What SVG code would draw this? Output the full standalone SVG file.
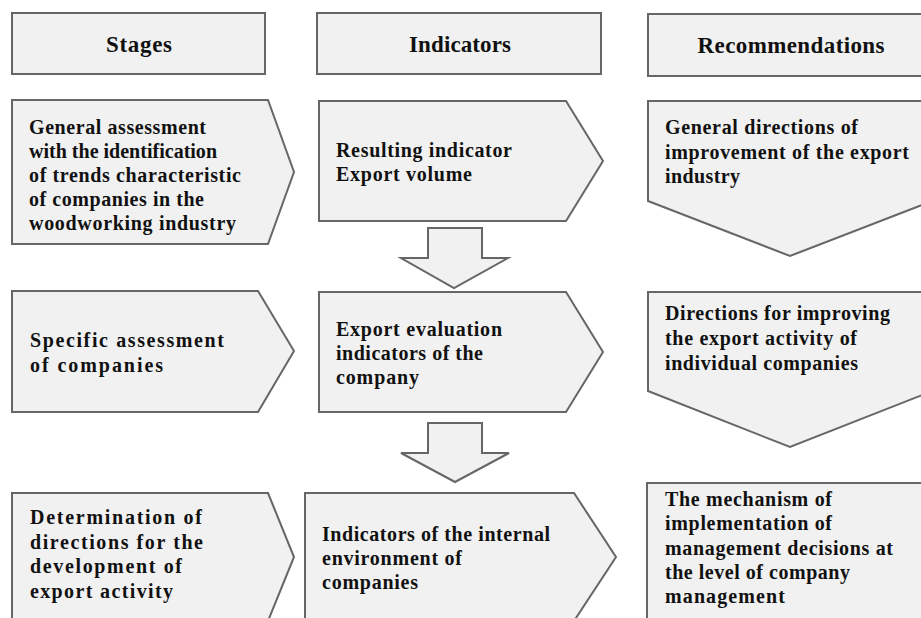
<svg xmlns="http://www.w3.org/2000/svg" width="921" height="618" viewBox="0 0 921 618">
<style>
.box{fill:#f1f1f1;stroke:#666;stroke-width:2;stroke-linejoin:miter}
.hdr{font-family:"Liberation Serif","Times New Roman",serif;font-weight:bold;font-size:23px;fill:#111;text-anchor:middle}
.t{font-family:"Liberation Serif","Times New Roman",serif;font-weight:bold;font-size:20px;fill:#111}
</style>
<rect width="921" height="618" fill="#fff"/>
<g id="hdr-stages"><rect class="box" x="12" y="13" width="253" height="61"/><text class="hdr" x="139" y="52" textLength="66" lengthAdjust="spacing">Stages</text></g>
<g id="hdr-indicators"><rect class="box" x="317" y="13" width="284" height="61"/><text class="hdr" x="460" y="52" textLength="102" lengthAdjust="spacing">Indicators</text></g>
<g id="hdr-recs"><rect class="box" x="648" y="14" width="290" height="62"/><text class="hdr" x="791" y="53" textLength="187" lengthAdjust="spacing">Recommendations</text></g>

<g id="stage1"><path class="box" d="M12,100 L268,100 L294,172 L268,244 L12,244 Z"/>
<text class="t" lengthAdjust="spacing"><tspan x="29" y="134" textLength="177">General assessment</tspan><tspan x="29" y="158" textLength="188">with the identification</tspan><tspan x="29" y="182" textLength="212">of trends characteristic</tspan><tspan x="29" y="206" textLength="175">of companies in the</tspan><tspan x="29" y="230" textLength="207">woodworking industry</tspan></text></g>
<g id="ind1"><path class="box" d="M319,101 L566,101 L603,161 L566,221 L319,221 Z"/>
<text class="t"><tspan x="336" y="157" textLength="176" lengthAdjust="spacing">Resulting indicator</tspan><tspan x="336" y="181" textLength="136" lengthAdjust="spacing">Export volume</tspan></text></g>
<g id="rec1"><path class="box" d="M648,101 L935,101 L935,200 L790,256 L648,201 Z"/>
<text class="t"><tspan x="665" y="134" textLength="193" lengthAdjust="spacing">General directions of</tspan><tspan x="665" y="159" textLength="244" lengthAdjust="spacing">improvement of the export</tspan><tspan x="665" y="183" textLength="75" lengthAdjust="spacing">industry</tspan></text></g>

<g id="stage2"><path class="box" d="M12,291 L258,291 L294,351 L258,412 L12,412 Z"/>
<text class="t"><tspan x="30" y="347" textLength="194" lengthAdjust="spacing">Specific assessment</tspan><tspan x="30" y="372" textLength="133" lengthAdjust="spacing">of companies</tspan></text></g>
<g id="ind2"><path class="box" d="M319,292 L566,292 L603,352 L566,412 L319,412 Z"/>
<text class="t"><tspan x="336" y="336" textLength="166" lengthAdjust="spacing">Export evaluation</tspan><tspan x="336" y="360" textLength="147" lengthAdjust="spacing">indicators of the</tspan><tspan x="336" y="384" textLength="83" lengthAdjust="spacing">company</tspan></text></g>
<g id="rec2"><path class="box" d="M648,292 L935,292 L935,390 L790,447 L648,391 Z"/>
<text class="t"><tspan x="665" y="320" textLength="225" lengthAdjust="spacing">Directions for improving</tspan><tspan x="665" y="345" textLength="192" lengthAdjust="spacing">the export activity of</tspan><tspan x="665" y="370" textLength="193" lengthAdjust="spacing">individual companies</tspan></text></g>

<g id="stage3"><path class="box" d="M12,493 L268,493 L294,557 L268,621 L12,621 Z"/>
<text class="t"><tspan x="30" y="524" textLength="172" lengthAdjust="spacing">Determination of</tspan><tspan x="30" y="549" textLength="173" lengthAdjust="spacing">directions for the</tspan><tspan x="30" y="573" textLength="152" lengthAdjust="spacing">development of</tspan><tspan x="30" y="598" textLength="143" lengthAdjust="spacing">export activity</tspan></text></g>
<g id="ind3"><path class="box" d="M305,493 L574,493 L616,557 L574,621 L305,621 Z"/>
<text class="t"><tspan x="322" y="541" textLength="228" lengthAdjust="spacing">Indicators of the internal</tspan><tspan x="322" y="565" textLength="140" lengthAdjust="spacing">environment of</tspan><tspan x="322" y="589" textLength="96" lengthAdjust="spacing">companies</tspan></text></g>
<g id="rec3"><rect class="box" x="647" y="483" width="290" height="140"/>
<text class="t"><tspan x="665" y="506" textLength="167" lengthAdjust="spacing">The mechanism of</tspan><tspan x="665" y="530" textLength="167" lengthAdjust="spacing">implementation of</tspan><tspan x="665" y="555" textLength="228" lengthAdjust="spacing">management decisions at</tspan><tspan x="665" y="579" textLength="185" lengthAdjust="spacing">the level of company</tspan><tspan x="665" y="603" textLength="120" lengthAdjust="spacing">management</tspan></text></g>

<g id="connectors">
<path class="box" d="M428,228 L482,228 L482,258 L508,258 L454,288 L401,258 L428,258 Z"/>
<path class="box" d="M428,423 L482,423 L482,453 L509,453 L455,482 L401,453 L428,453 Z"/>
</g>
</svg>
